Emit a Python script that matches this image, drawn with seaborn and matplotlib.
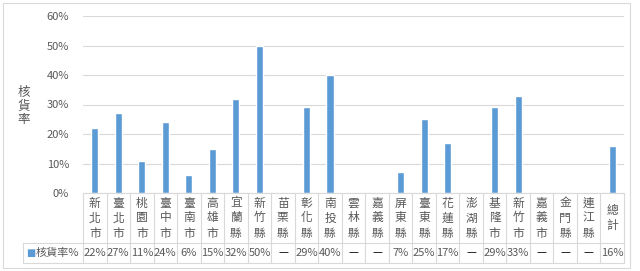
import numpy as np
import pandas as pd
import matplotlib
matplotlib.use("Agg")
import matplotlib.pyplot as plt
import matplotlib.transforms as mtransforms
from matplotlib.ticker import FuncFormatter
import seaborn as sns

# data
categories = ['新北市', '臺北市', '桃園市', '臺中市', '臺南市', '高雄市', '宜蘭縣', '新竹縣',
              '苗栗縣', '彰化縣', '南投縣', '雲林縣', '嘉義縣', '屏東縣', '臺東縣', '花蓮縣',
              '澎湖縣', '基隆市', '新竹市', '嘉義市', '金門縣', '連江縣', '總計']
rates = [22, 27, 11, 24, 6, 15, 32, 50, None, 29, 40, None, None, 7, 25, 17,
         None, 29, 33, None, None, None, 16]
series_name = '核貨率%'
y_label = '核貨率'
y_ticks = [0, 10, 20, 30, 40, 50, 60]

BLUE = '#5B9BD5'
GRID = '#D9D9D9'
TXT = '#595959'

sns.set_theme(style='white')
plt.rcParams['font.family'] = ['Noto Sans CJK TC', 'DejaVu Sans']

df = pd.DataFrame({'cat': categories,
                   'rate': [np.nan if v is None else v for v in rates]})

fig = plt.figure(figsize=(6.4, 2.71), dpi=100)
ax = fig.add_axes([83 / 640, 1 - 193 / 271, (624 - 83) / 640, (193 - 16) / 271])

sns.barplot(data=df, x='cat', y='rate', order=categories, color=BLUE,
            width=0.3, errorbar=None, saturation=1, ax=ax)

ax.set_ylim(0, 60)
ax.set_xlim(-0.5, len(categories) - 0.5)
ax.set_yticks(y_ticks)
ax.yaxis.set_major_formatter(FuncFormatter(lambda v, p: f'{v:.0f}%'))
ax.tick_params(axis='y', labelsize=8, labelcolor=TXT, length=0, pad=10)
ax.set_xticks([])
ax.set_xlabel('')
ax.set_ylabel('')
ax.grid(axis='y', color=GRID, linewidth=0.8)
ax.set_axisbelow(True)
for s in ax.spines.values():
    s.set_visible(False)

fig.text(24 / 640, 1 - 106 / 271, '\n'.join(y_label), fontsize=9, color=TXT,
         ha='center', va='center', linespacing=1.1)

# data table below the axis
trans = mtransforms.blended_transform_factory(ax.transData, ax.transAxes)
ah = 177.0
y_cat = -50 / ah
y_val = -70 / ah
n = len(categories)
lkw = dict(color=GRID, linewidth=0.8, transform=trans, clip_on=False)
ax.plot([-0.5, n - 0.5], [0, 0], **lkw)
for i in range(n + 1):
    ax.plot([i - 0.5, i - 0.5], [0, y_val], **lkw)
left_x = -0.5 - 60 / (541 / n)
ax.plot([left_x, n - 0.5], [y_cat, y_cat], **lkw)
ax.plot([left_x, n - 0.5], [y_val, y_val], **lkw)
ax.plot([left_x, left_x], [y_cat, y_val], **lkw)

for i, (c, v) in enumerate(zip(categories, rates)):
    ax.text(i, y_cat / 2, '\n'.join(c), transform=trans, ha='center', va='center',
            fontsize=8.5, color=TXT, linespacing=1.2, clip_on=False)
    label = '—' if v is None else f'{v}%'
    ax.text(i, (y_cat + y_val) / 2, label, transform=trans, ha='center', va='center',
            fontsize=8, color='black' if v is None else TXT, clip_on=False)

ax.text(left_x + 0.15, (y_cat + y_val) / 2, '■', transform=trans, ha='left',
        va='center', fontsize=7, color=BLUE, clip_on=False,
        family=['DejaVu Sans'])
ax.text(left_x + 0.55, (y_cat + y_val) / 2, series_name, transform=trans,
        ha='left', va='center', fontsize=8, color=TXT, clip_on=False)

# outer chart border
fig.patches.append(plt.Rectangle((3 / 640, 3 / 271), 627 / 640, 265 / 271,
                                 transform=fig.transFigure, fill=False,
                                 edgecolor=GRID, linewidth=0.8))

fig.savefig('out.png', dpi=100)
